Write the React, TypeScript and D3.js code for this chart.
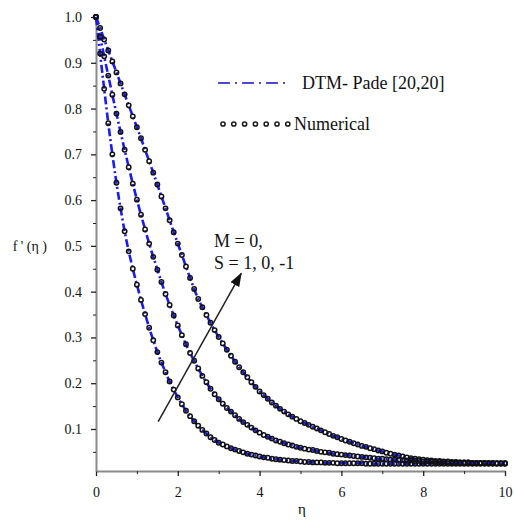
import React, { useRef, useEffect } from 'react';
import * as d3 from 'd3';

// eta grid of the numerical solution, step 0.1 on [0, 10]
const etaValues = d3.range(0, 101).map(i => i / 10);

// f'(eta), M = 0
const fpS1 = [
  1.000, 0.920, 0.843, 0.768, 0.700, 0.638, 0.582, 0.532, 0.488, 0.450,
  0.415, 0.382, 0.351, 0.321, 0.294, 0.268, 0.245, 0.224, 0.204, 0.186,
  0.169, 0.154, 0.140, 0.128, 0.117, 0.107, 0.098, 0.090, 0.082, 0.076,
  0.070, 0.066, 0.062, 0.058, 0.055, 0.052, 0.049, 0.046, 0.044, 0.042,
  0.040, 0.038, 0.037, 0.035, 0.034, 0.033, 0.032, 0.031, 0.030, 0.030,
  0.029, 0.028, 0.028, 0.027, 0.027, 0.027, 0.026, 0.026, 0.026, 0.025,
  0.025, 0.025, 0.025, 0.025, 0.025, 0.025, 0.024, 0.024, 0.024, 0.024,
  0.024, 0.024, 0.024, 0.024, 0.024, 0.024, 0.024, 0.024, 0.024, 0.024,
  0.024, 0.024, 0.024, 0.024, 0.024, 0.024, 0.024, 0.024, 0.024, 0.024,
  0.024, 0.024, 0.024, 0.024, 0.024, 0.024, 0.024, 0.024, 0.024, 0.024,
  0.024
];

const fpS0 = [
  1.000, 0.957, 0.914, 0.872, 0.830, 0.789, 0.749, 0.710, 0.672, 0.636,
  0.601, 0.568, 0.536, 0.505, 0.476, 0.448, 0.421, 0.395, 0.371, 0.348,
  0.326, 0.305, 0.285, 0.266, 0.249, 0.232, 0.216, 0.202, 0.188, 0.176,
  0.165, 0.155, 0.146, 0.138, 0.130, 0.122, 0.115, 0.109, 0.103, 0.097,
  0.092, 0.087, 0.083, 0.079, 0.075, 0.072, 0.069, 0.066, 0.064, 0.061,
  0.059, 0.057, 0.055, 0.054, 0.052, 0.050, 0.049, 0.048, 0.046, 0.045,
  0.044, 0.043, 0.042, 0.041, 0.040, 0.039, 0.038, 0.037, 0.036, 0.035,
  0.035, 0.034, 0.033, 0.033, 0.032, 0.032, 0.031, 0.031, 0.030, 0.030,
  0.029, 0.029, 0.029, 0.028, 0.028, 0.028, 0.028, 0.027, 0.027, 0.027,
  0.027, 0.027, 0.026, 0.026, 0.026, 0.026, 0.026, 0.026, 0.025, 0.025,
  0.025
];

const fpSm1 = [
  1.000, 0.976, 0.951, 0.927, 0.903, 0.879, 0.855, 0.831, 0.807, 0.783,
  0.759, 0.735, 0.710, 0.685, 0.660, 0.634, 0.608, 0.582, 0.556, 0.530,
  0.505, 0.480, 0.455, 0.430, 0.406, 0.384, 0.366, 0.349, 0.332, 0.316,
  0.301, 0.287, 0.273, 0.260, 0.247, 0.235, 0.224, 0.213, 0.202, 0.192,
  0.182, 0.174, 0.166, 0.158, 0.151, 0.144, 0.138, 0.132, 0.127, 0.122,
  0.117, 0.113, 0.109, 0.105, 0.101, 0.097, 0.093, 0.089, 0.085, 0.082,
  0.078, 0.075, 0.072, 0.069, 0.066, 0.063, 0.061, 0.058, 0.056, 0.053,
  0.051, 0.048, 0.046, 0.044, 0.042, 0.040, 0.038, 0.036, 0.035, 0.034,
  0.033, 0.032, 0.031, 0.030, 0.030, 0.029, 0.029, 0.028, 0.028, 0.027,
  0.027, 0.027, 0.026, 0.026, 0.026, 0.026, 0.025, 0.025, 0.025, 0.025,
  0.025
];

const curves = [fpS1, fpS0, fpSm1];

const xMajorTicks = [0, 2, 4, 6, 8, 10];
const xMinorTicks = [1, 3, 5, 7, 9];
const yMajorTicks = [0.1, 0.2, 0.3, 0.4, 0.5, 0.6, 0.7, 0.8, 0.9, 1.0];
const yMinorTicks = [0.05, 0.15, 0.25, 0.35, 0.45, 0.55, 0.65, 0.75, 0.85, 0.95];

const legendLabels = ['DTM- Pade [20,20]', 'Numerical'];
const noteLines = ['M = 0,', 'S = 1, 0, -1'];
// arrow in data units: from -> to
const arrowFrom = [1.52, 0.116];
const arrowTo = [3.55, 0.44];

const WIDTH = 514;
const HEIGHT = 521;
const FONT = 'Liberation Serif, Times New Roman, serif';
const LINE_BLUE = '#1c1ce8';

const App = () => {
  const svgRef = useRef(null);

  useEffect(() => {
    const svg = d3.select(svgRef.current);
    svg.selectAll('*').remove();

    const x = d3.scaleLinear().domain([0, 10]).range([96, 505]);
    const y = d3.scaleLinear().domain([0.008, 1]).range([471.1, 17]);

    const defs = svg.append('defs');
    defs
      .append('marker')
      .attr('id', 'arrowHead')
      .attr('viewBox', '0 0 14 10')
      .attr('refX', 13)
      .attr('refY', 5)
      .attr('markerWidth', 14)
      .attr('markerHeight', 10)
      .attr('markerUnits', 'userSpaceOnUse')
      .attr('orient', 'auto')
      .append('path')
      .attr('d', 'M0,0 L14,5 L0,10 Z')
      .attr('fill', '#111');

    // axes
    const styleAxis = g => {
      g.attr('font-family', FONT).attr('font-size', 14);
      g.select('.domain').attr('stroke', '#8a8a8a').attr('stroke-width', 2);
      g.selectAll('.tick line').attr('stroke', '#222').attr('stroke-width', 1.3);
      g.selectAll('.tick text').attr('fill', '#111');
    };

    const xAxisG = svg
      .append('g')
      .attr('transform', `translate(0,${y(0.008)})`)
      .call(
        d3
          .axisBottom(x)
          .tickValues(xMajorTicks)
          .tickSize(5)
          .tickSizeOuter(0)
          .tickPadding(11)
          .tickFormat(d3.format('d'))
      );
    styleAxis(xAxisG);

    const xMinorG = svg
      .append('g')
      .attr('transform', `translate(0,${y(0.008)})`)
      .call(d3.axisBottom(x).tickValues(xMinorTicks).tickSize(3).tickFormat(() => ''));
    xMinorG.select('.domain').remove();
    xMinorG.selectAll('.tick line').attr('stroke', '#222');

    const yAxisG = svg
      .append('g')
      .attr('transform', `translate(${x(0)},0)`)
      .call(
        d3
          .axisLeft(y)
          .tickValues(yMajorTicks)
          .tickSize(5)
          .tickSizeOuter(0)
          .tickPadding(9)
          .tickFormat(d3.format('.1f'))
      );
    styleAxis(yAxisG);

    const yMinorG = svg
      .append('g')
      .attr('transform', `translate(${x(0)},0)`)
      .call(d3.axisLeft(y).tickValues(yMinorTicks).tickSize(3).tickFormat(() => ''));
    yMinorG.select('.domain').remove();
    yMinorG.selectAll('.tick line').attr('stroke', '#222');

    // DTM-Pade lines
    const line = d3
      .line()
      .x((d, i) => x(etaValues[i]))
      .y(d => y(d))
      .curve(d3.curveMonotoneX);

    svg
      .selectAll('.dtm')
      .data(curves)
      .join('path')
      .attr('class', 'dtm')
      .attr('d', d => line(d))
      .attr('fill', 'none')
      .attr('stroke', LINE_BLUE)
      .attr('stroke-width', 2.6)
      .attr('stroke-dasharray', '8,3,2,3');

    // numerical points
    curves.forEach(values => {
      svg
        .append('g')
        .selectAll('circle')
        .data(values)
        .join('circle')
        .attr('cx', (d, i) => x(etaValues[i]))
        .attr('cy', d => y(d))
        .attr('r', 2.2)
        .attr('fill', 'none')
        .attr('stroke', '#111')
        .attr('stroke-width', 1.5);
    });

    // legend
    const legend = svg.append('g');
    legend
      .append('line')
      .attr('x1', 218)
      .attr('x2', 289)
      .attr('y1', 83)
      .attr('y2', 83)
      .attr('stroke', '#4a4ad0')
      .attr('stroke-width', 1.8)
      .attr('stroke-dasharray', '12,5,2,5');
    legend
      .append('text')
      .attr('x', 302)
      .attr('y', 89)
      .text(legendLabels[0]);
    legend
      .selectAll('circle')
      .data(d3.range(7))
      .join('circle')
      .attr('cx', d => 223 + d * 10.8)
      .attr('cy', 124)
      .attr('r', 2.1)
      .attr('fill', 'none')
      .attr('stroke', '#1a1a1a')
      .attr('stroke-width', 1.5);
    legend
      .append('text')
      .attr('x', 294)
      .attr('y', 130)
      .text(legendLabels[1]);
    legend
      .selectAll('text')
      .attr('fill', '#111')
      .attr('font-family', FONT)
      .attr('font-size', 18);

    // annotation
    svg
      .append('line')
      .attr('x1', x(arrowFrom[0]))
      .attr('y1', y(arrowFrom[1]))
      .attr('x2', x(arrowTo[0]))
      .attr('y2', y(arrowTo[1]))
      .attr('stroke', '#222')
      .attr('stroke-width', 1.5)
      .attr('marker-end', 'url(#arrowHead)');

    svg
      .append('g')
      .selectAll('text')
      .data(noteLines)
      .join('text')
      .attr('x', 214)
      .attr('y', (d, i) => 247 + i * 22)
      .text(d => d)
      .attr('fill', '#111')
      .attr('font-family', FONT)
      .attr('font-size', 18);

    // axis titles
    svg
      .append('text')
      .attr('x', 47)
      .attr('y', 251)
      .attr('text-anchor', 'end')
      .text("f ' (η )")
      .attr('fill', '#111')
      .attr('font-family', FONT)
      .attr('font-size', 14);

    svg
      .append('text')
      .attr('x', 302)
      .attr('y', 514)
      .attr('text-anchor', 'middle')
      .text('η')
      .attr('fill', '#111')
      .attr('font-family', FONT)
      .attr('font-size', 15);
  }, []);

  return (
    <svg
      ref={svgRef}
      width={WIDTH}
      height={HEIGHT}
      style={{ position: 'absolute', left: 0, top: 0, background: '#fff' }}
    />
  );
};

export default App;
